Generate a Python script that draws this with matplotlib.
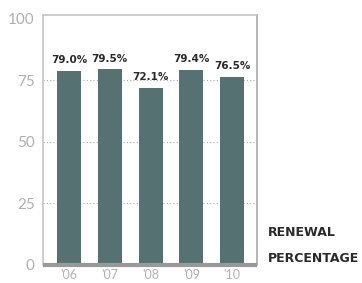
import matplotlib
matplotlib.use("Agg")
import matplotlib.pyplot as plt

years = ["'06", "'07", "'08", "'09", "'10"]
renewal = [79.0, 79.5, 72.1, 79.4, 76.5]
labels = ["79.0%", "79.5%", "72.1%", "79.4%", "76.5%"]
yticks = [0, 25, 50, 75, 100]

bar_color = "#567171"

fig = plt.figure(figsize=(3.62, 2.83), dpi=100)
ax = fig.add_axes([43/362, 1-265/283, 214/362, 250/283])

x = list(range(len(years)))
ax.bar(x, renewal, width=0.59, color=bar_color, zorder=2)
for xi, v, lab in zip(x, renewal, labels):
    ax.text(xi, v + 2.2, lab, ha="center", va="bottom", fontsize=7.5,
            fontweight="bold", color="#2a2a2a", family="DejaVu Sans", zorder=3)

ax.set_xlim(-0.64, 4.61)
ax.set_ylim(0, 101.6)
ax.set_yticks(yticks)
ax.set_yticklabels([str(t) for t in yticks], fontsize=11, color="#b0b0b0",
                   family="Lato")
ax.set_xticks(x)
ax.set_xticklabels(years, fontsize=9, color="#b0b0b0", family="Lato")
ax.tick_params(axis="both", length=0)
ax.tick_params(axis="y", pad=6)
ax.tick_params(axis="x", pad=3)

ax.grid(axis="y", linestyle=(0, (1, 2)), color="#aaaaaa", linewidth=0.8, zorder=1)
# no dotted line under the top frame
ax.yaxis.get_gridlines()[-1].set_visible(False)
for s in ["left", "top", "right"]:
    ax.spines[s].set_color("#c4c4c4")
    ax.spines[s].set_linewidth(1.2)
ax.spines["right"].set_color("#a8a8a8")
ax.spines["bottom"].set_color("#999999")
ax.spines["bottom"].set_linewidth(3)
ax.spines["bottom"].set_capstyle("butt")

fig.text(268/362, 1-232/283, "RENEWAL", fontsize=9, fontweight="bold",
         color="#2a2a2a", va="center", ha="left")
fig.text(268/362, 1-258/283, "PERCENTAGE", fontsize=9, fontweight="bold",
         color="#2a2a2a", va="center", ha="left")

fig.savefig("out.png", dpi=100)
